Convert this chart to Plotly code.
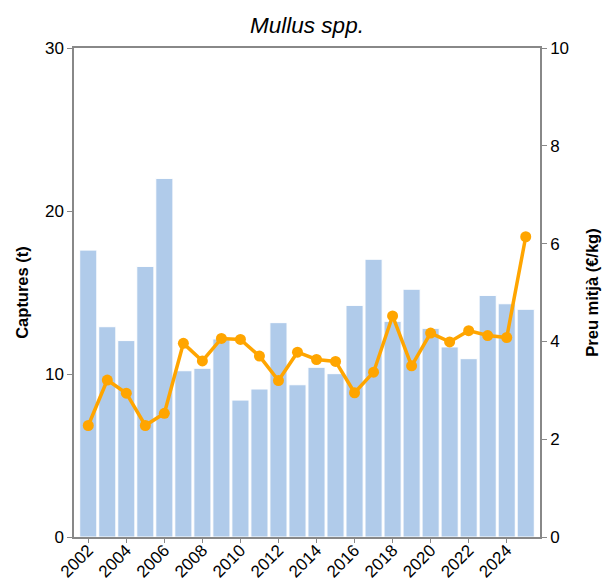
import plotly.graph_objects as go

years = list(range(2002, 2026))
captures = [17.6, 12.9, 12.05, 16.6, 22.0, 10.2, 10.35, 12.15, 8.4, 9.08, 13.15, 9.34,
            10.41, 10.02, 14.21, 17.04, 13.23, 15.2, 12.8, 11.66, 10.94, 14.82, 14.31, 13.97]
price = [2.28, 3.21, 2.94, 2.28, 2.53, 3.96, 3.60, 4.06, 4.04, 3.70, 3.20, 3.78,
         3.63, 3.59, 2.95, 3.37, 4.52, 3.50, 4.17, 3.99, 4.22, 4.12, 4.08, 6.14]
x_ticks = list(range(2002, 2026, 2))
left_ticks = [0, 10, 20, 30]
right_ticks = [0, 2, 4, 6, 8, 10]

FONT = "Liberation Sans, Arial, sans-serif"
AX = "#888888"

fig = go.Figure()
fig.add_trace(go.Bar(x=years, y=captures, marker=dict(color="#b0cbea", line=dict(color="white", width=1)),
                     name="Captures", yaxis="y"))
fig.add_trace(go.Scatter(x=years, y=price, mode="lines+markers",
                         line=dict(color="#ffa500", width=3.5),
                         marker=dict(color="#ffa500", size=11),
                         name="Preu", yaxis="y2"))

fig.update_layout(
    width=611, height=581,
    margin=dict(l=66, r=79, t=40, b=52, autoexpand=False),
    paper_bgcolor="white", plot_bgcolor="white",
    showlegend=False,
    bargap=0.1,
    font=dict(family=FONT, color="black"),
    title=dict(text="<i>Mullus spp.</i>", xref="paper", x=0.5, xanchor="center", y=0.971, yanchor="middle",
               font=dict(size=22.5, family=FONT, color="black")),
    xaxis=dict(range=[2001.25, 2025.75], tickvals=x_ticks, ticktext=[str(t) for t in x_ticks],
               tickangle=-45, tickfont=dict(size=17), showgrid=False, zeroline=False,
               showline=True, linecolor=AX, linewidth=1.5, mirror=True, automargin=False,
               ticks="outside", ticklen=4, tickcolor=AX, ticklabelstandoff=-9),
    yaxis=dict(range=[0, 30], tickvals=left_ticks, tickfont=dict(size=17), showgrid=False,
               zeroline=False, showline=True, linecolor=AX, linewidth=1.5, automargin=False,
               ticks="outside", ticklen=5, tickcolor=AX,
               title=dict(text="<b>Captures (t)</b>", font=dict(size=16.5), standoff=12)),
    yaxis2=dict(range=[0, 10], tickvals=right_ticks, tickfont=dict(size=17), overlaying="y",
                side="right", showgrid=False, zeroline=False, showline=True, linecolor=AX,
                linewidth=1.5, ticks="outside", ticklen=5, tickcolor=AX, automargin=False,
                title=dict(text="<b>Preu mitjà (€/kg)</b>", font=dict(size=16.5), standoff=18)),
)

fig.write_html("out.html")
